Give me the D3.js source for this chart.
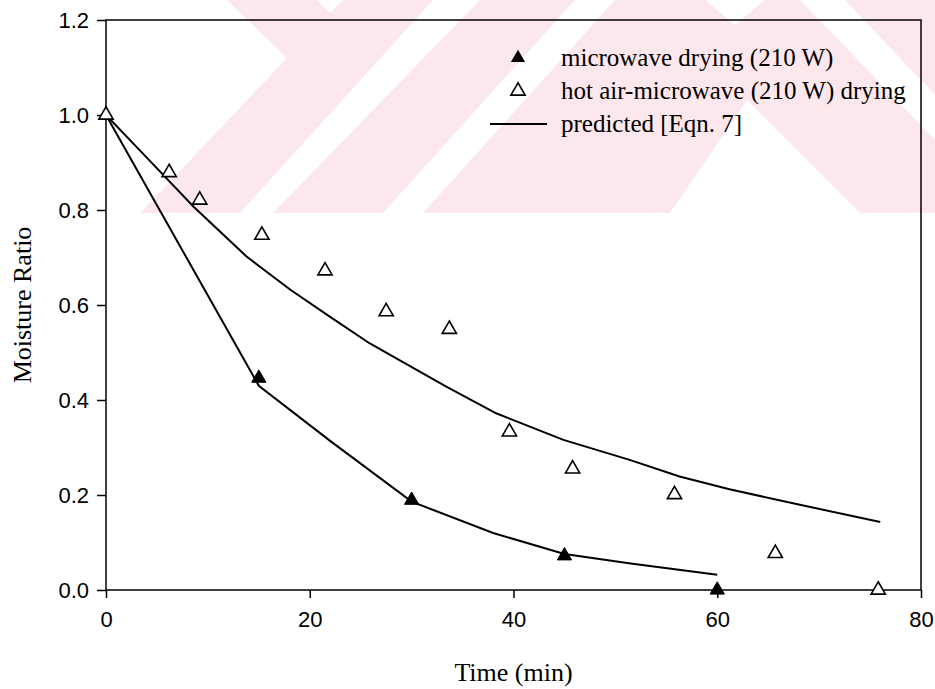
<!DOCTYPE html>
<html><head><meta charset="utf-8">
<script src="https://cdn.jsdelivr.net/npm/d3@7"></script>
<style>body{margin:0;background:#fff}svg{display:block}</style>
</head><body>
<script>
// ---- data ----
const microTime = [0, 15, 30, 45, 60];
const microMR   = [1.0, 0.446, 0.189, 0.072, 0.0];
const hotTime = [0, 6.2, 9.2, 15.3, 21.5, 27.5, 33.7, 39.6, 45.8, 55.8, 65.7, 75.8];
const hotMR   = [1.0, 0.879, 0.821, 0.747, 0.672, 0.586, 0.549, 0.333, 0.255, 0.201, 0.077, 0.0];
const predMicroTime = [0, 5, 10, 15, 22, 30, 38, 45, 51.5, 60];
const predMicroMR   = [1.0, 0.81, 0.62, 0.43, 0.314, 0.186, 0.12, 0.076, 0.056, 0.032];
const predHotTime = [0, 3.3, 8.6, 13.8, 18.1, 22, 25.9, 33.4, 38.3, 44.9, 51.4, 56.3, 61.2, 68, 76];
const predHotMR   = [1.0, 0.926, 0.807, 0.702, 0.632, 0.575, 0.519, 0.428, 0.372, 0.316, 0.274, 0.239, 0.212, 0.18, 0.143];
const xTicks = [0, 20, 40, 60, 80];
const yTicks = [0, 0.2, 0.4, 0.6, 0.8, 1.0, 1.2];
const legendLabels = ["microwave drying (210 W)", "hot air-microwave (210 W) drying", "predicted [Eqn. 7]"];
const xTitle = "Time (min)";
const yTitle = "Moisture Ratio";

// ---- decoration (background watermark, page pixels) ----
const watermark = [
  [[227,0],[317,0],[330,13],[343,0],[433,0],[240,213],[140,213],[287,58]],
  [[480,0],[575,0],[383,213],[273,213]],
  [[615,0],[705,0],[735,25],[765,0],[800,0],[935,140],[935,213],[860,213],[747,100],[670,213],[423,213]],
  [[845,0],[935,0],[935,95]]
];

const W = 935, H = 689;
const svg = d3.select("body").append("svg").attr("width", W).attr("height", H);

svg.append("g").selectAll("polygon").data(watermark).join("polygon")
  .attr("points", d => d.map(p => p.join(",")).join(" "))
  .attr("fill", "#fce8ec");

const x = d3.scaleLinear().domain([0, 80]).range([106, 921]);
const y = d3.scaleLinear().domain([0, 1.2]).range([590, 20]);

// frame
svg.append("rect").attr("x", x(0)).attr("y", y(1.2))
  .attr("width", x(80) - x(0)).attr("height", y(0) - y(1.2))
  .attr("fill", "none").attr("stroke", "#000").attr("stroke-width", 1.5);

const yAxis = svg.append("g").attr("transform", `translate(${x(0)},0)`)
  .call(d3.axisLeft(y).tickValues(yTicks).tickFormat(d3.format(".1f")).tickSize(9).tickPadding(8));
const xAxis = svg.append("g").attr("transform", `translate(0,${y(0)})`)
  .call(d3.axisBottom(x).tickValues(xTicks).tickFormat(d3.format("d")).tickSize(8).tickPadding(13));
[yAxis, xAxis].forEach(g => {
  g.select(".domain").remove();
  g.selectAll("line").attr("stroke", "#000").attr("stroke-width", 1.5);
  g.selectAll("text").attr("fill", "#000")
    .style("font-family", "'Liberation Sans', Arial, sans-serif").style("font-size", "22px");
});

// predicted lines
const line = d3.line().x(d => x(d[0])).y(d => y(d[1]));
[[predMicroTime, predMicroMR], [predHotTime, predHotMR]].forEach(([t, v]) => {
  svg.append("path").datum(t.map((ti, i) => [ti, v[i]]))
    .attr("d", line).attr("fill", "none").attr("stroke", "#000").attr("stroke-width", 2);
});

const tri = d3.symbol().type(d3.symbolTriangle).size(88);

// filled triangles (microwave)
svg.append("g").selectAll("path").data(microTime.map((t, i) => [t, microMR[i]])).join("path")
  .attr("d", tri).attr("transform", d => `translate(${x(d[0])},${y(d[1])})`)
  .attr("fill", "#000").attr("stroke", "#000").attr("stroke-width", 1);

// open triangles (hot air-microwave)
svg.append("g").selectAll("path").data(hotTime.map((t, i) => [t, hotMR[i]])).join("path")
  .attr("d", tri).attr("transform", d => `translate(${x(d[0])},${y(d[1])})`)
  .attr("fill", "#fff").attr("stroke", "#000").attr("stroke-width", 1.6);

// legend
const lg = svg.append("g");
const lx = 518, ly0 = 58, ldy = 33;
lg.append("path").attr("d", tri).attr("transform", `translate(${lx},${ly0})`).attr("fill", "#000");
lg.append("path").attr("d", tri).attr("transform", `translate(${lx},${ly0 + ldy})`)
  .attr("fill", "#fff").attr("stroke", "#000").attr("stroke-width", 1.6);
lg.append("line").attr("x1", 490).attr("x2", 547).attr("y1", ly0 + 2 * ldy).attr("y2", ly0 + 2 * ldy)
  .attr("stroke", "#000").attr("stroke-width", 2);
lg.selectAll("text").data(legendLabels).join("text")
  .attr("x", 561).attr("y", (d, i) => ly0 + i * ldy + 8)
  .style("font-family", "'Liberation Serif', 'Times New Roman', serif").style("font-size", "25px")
  .text(d => d);

// axis titles
svg.append("text").attr("x", (x(0) + x(80)) / 2).attr("y", 681).attr("text-anchor", "middle")
  .style("font-family", "'Liberation Serif', 'Times New Roman', serif").style("font-size", "26px")
  .text(xTitle);
svg.append("text").attr("transform", `translate(31,${(y(0) + y(1.2)) / 2}) rotate(-90)`)
  .attr("text-anchor", "middle")
  .style("font-family", "'Liberation Serif', 'Times New Roman', serif").style("font-size", "26px")
  .text(yTitle);
</script>
</body></html>
